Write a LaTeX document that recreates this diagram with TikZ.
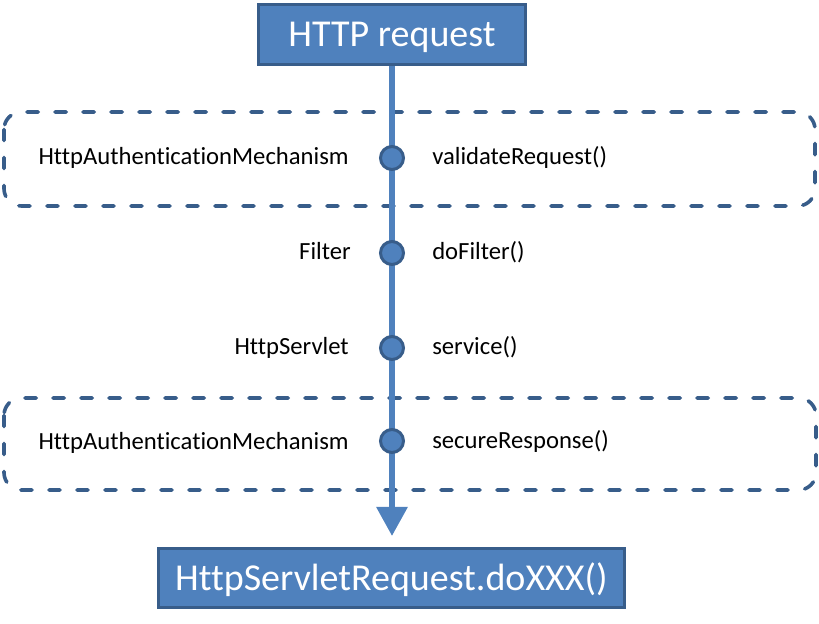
\documentclass[tikz,border=0pt]{standalone}
\usepackage{fontspec}
\setmainfont{Carlito}[Ligatures=NoCommon]
\usetikzlibrary{arrows.meta}
\definecolor{boxfill}{HTML}{4F81BD}
\definecolor{boxline}{HTML}{385D8A}
\begin{document}
\begin{tikzpicture}[x=0.75pt,y=-0.75pt,
  bigbox/.style={draw=boxline, fill=boxfill, line width=2.25pt, text=white,
    font=\fontsize{28.5}{34}\selectfont, inner sep=0pt,
    text height=18.4pt, text depth=0pt},
  group/.style={draw=boxline, line width=2.7pt, line cap=round,
    dash pattern=on 8.5pt off 12.5pt, rounded corners=13pt},
  dot/.style={circle, draw=boxline, fill=boxfill, line width=2.25pt,
    minimum size=23*0.75pt, inner sep=0pt},
  lbl/.style={font=\fontsize{18.5}{22}\selectfont, text=black, inner sep=0pt,
    text height=11.9pt, text depth=0pt},
  flow/.style={draw=boxfill, line width=4.5pt,
    -{Triangle[width=22.5pt,length=21.75pt]}}
]
\useasboundingbox (0,0) rectangle (819,624);
\draw[group] (4,112) rectangle (815,206);
\draw[group] (4,398) rectangle (816,490);
\node[bigbox, minimum width=267*0.75pt, minimum height=60*0.75pt] (req) at (392,34.5) {HTTP request};
\node[bigbox, minimum width=466*0.75pt, minimum height=59*0.75pt] (res) at (391.5,578) {HttpServletRequest.doXXX()};
\coordinate (tip) at (392,536);
\draw[flow] (req.south) -- (tip);
\node[dot] (d1) at (392,158) {};
\node[dot] (d2) at (392,253) {};
\node[dot] (d3) at (392,348) {};
\node[dot] (d4) at (392,441) {};
\node[lbl, anchor=east] (l1) at (349,157) {HttpAuthenticationMechanism};
\node[lbl, anchor=west] (r1) at (432,157) {validateRequest()};
\node[lbl, anchor=east] (l2) at (351,252) {Filter};
\node[lbl, anchor=west] (r2) at (432,252) {doFilter()};
\node[lbl, anchor=east] (l3) at (349,347) {HttpServlet};
\node[lbl, anchor=west] (r3) at (432,347) {service()};
\node[lbl, anchor=east] (l4) at (349,442) {HttpAuthenticationMechanism};
\node[lbl, anchor=west] (r4) at (432,441) {secureResponse()};
\end{tikzpicture}
\end{document}
